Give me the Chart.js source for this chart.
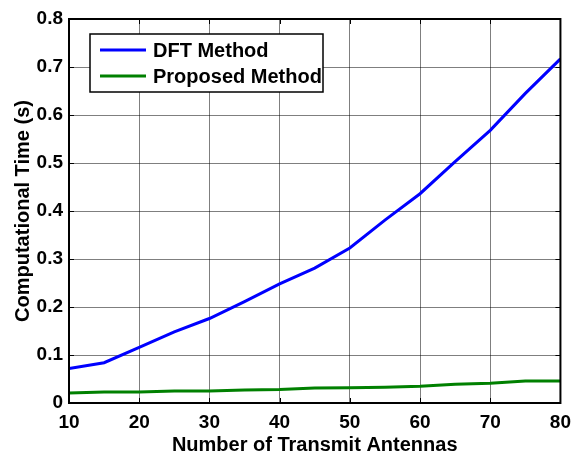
<!DOCTYPE html>
<html>
<head>
<meta charset="utf-8">
<script src="https://cdn.jsdelivr.net/npm/chart.js@4"></script>
<style>
html,body{margin:0;padding:0;background:#fff;}
#wrap{width:579px;height:454px;}
</style>
</head>
<body>
<div id="wrap"><canvas id="c" width="579" height="454"></canvas></div>
<script>
const antennas = [10,15,20,25,30,35,40,45,50,55,60,65,70,75,80];
const dftTime = [0.072,0.084,0.116,0.148,0.176,0.211,0.248,0.281,0.323,0.381,0.436,0.503,0.568,0.645,0.717];
const proposedTime = [0.021,0.023,0.023,0.025,0.025,0.027,0.028,0.031,0.032,0.033,0.035,0.039,0.041,0.046,0.046];
const xTicks = [10,20,30,40,50,60,70,80];
const yTicks = [0,0.1,0.2,0.3,0.4,0.5,0.6,0.7,0.8];
const seriesNames = ['DFT Method','Proposed Method'];
const seriesColors = ['#0000ff','#008000'];

const FONT = '"Liberation Sans", Arial, sans-serif';

const boxPlugin = {
  id:'box',
  afterDatasetsDraw(chart){
    const {ctx, chartArea:a, scales:{x,y}} = chart;
    ctx.save();
    ctx.strokeStyle='#000';
    ctx.lineWidth=1;
    const L=5;
    ctx.beginPath();
    xTicks.forEach(v=>{
      const px=Math.round(x.getPixelForValue(v))+0.5;
      ctx.moveTo(px,a.bottom); ctx.lineTo(px,a.bottom-L);
      ctx.moveTo(px,a.top); ctx.lineTo(px,a.top+L);
    });
    yTicks.forEach(v=>{
      const py=Math.round(y.getPixelForValue(v))+0.5;
      ctx.moveTo(a.left,py); ctx.lineTo(a.left+L,py);
      ctx.moveTo(a.right,py); ctx.lineTo(a.right-L,py);
    });
    ctx.stroke();
    ctx.lineWidth=2;
    ctx.strokeRect(a.left,a.top,a.right-a.left,a.bottom-a.top);
    // legend
    const lx=a.left+21, ly=a.top+15, lw=233, lh=58;
    ctx.fillStyle='#fff';
    ctx.fillRect(lx,ly,lw,lh);
    ctx.lineWidth=1.5;
    ctx.strokeRect(lx,ly,lw,lh);
    ctx.font='bold 20px '+FONT;
    ctx.textBaseline='middle';
    chart.data.datasets.forEach((ds,i)=>{
      const cy=ly+16+i*26;
      ctx.strokeStyle=ds.borderColor;
      ctx.lineWidth=3;
      ctx.beginPath();
      ctx.moveTo(lx+10,cy); ctx.lineTo(lx+56,cy);
      ctx.stroke();
      ctx.fillStyle='#000';
      ctx.fillText(ds.label,lx+63,cy+1);
    });
    ctx.restore();
  }
};

new Chart(document.getElementById('c'),{
  type:'line',
  data:{
    labels:antennas,
    datasets:[
      {label:seriesNames[0],data:antennas.map((a,i)=>({x:a,y:dftTime[i]})),borderColor:seriesColors[0],borderWidth:3,pointRadius:0,tension:0,fill:false},
      {label:seriesNames[1],data:antennas.map((a,i)=>({x:a,y:proposedTime[i]})),borderColor:seriesColors[1],borderWidth:3,pointRadius:0,tension:0,fill:false}
    ]
  },
  options:{
    responsive:false,
    animation:false,
    layout:{padding:{left:0,right:18,top:19,bottom:0}},
    plugins:{legend:{display:false},tooltip:{enabled:false}},
    scales:{
      x:{
        type:'linear',min:10,max:80,
        afterBuildTicks(s){s.ticks=xTicks.map(v=>({value:v}));},
        afterFit(s){s.height=51;},
        grid:{color:'rgba(0,0,0,0.5)',lineWidth:1,drawTicks:false},
        border:{display:false},
        ticks:{color:'#000',font:{family:FONT,size:19,weight:'bold'},padding:8,maxRotation:0,autoSkip:false},
        title:{display:true,text:'Number of Transmit Antennas',color:'#000',font:{family:FONT,size:20,weight:'bold'},padding:{top:0,bottom:-3}}
      },
      y:{
        type:'linear',min:0,max:0.8,
        afterBuildTicks(s){s.ticks=yTicks.map(v=>({value:v}));},
        afterFit(s){s.width=69;},
        grid:{color:'rgba(0,0,0,0.5)',lineWidth:1,drawTicks:false},
        border:{display:false},
        ticks:{color:'#000',font:{family:FONT,size:19,weight:'bold'},padding:6,autoSkip:false,callback:v=>String(v)},
        title:{display:true,text:'Computational Time (s)',color:'#000',font:{family:FONT,size:20,weight:'bold'},padding:{top:11,bottom:0}}
      }
    }
  },
  plugins:[boxPlugin]
});
</script>
</body>
</html>
